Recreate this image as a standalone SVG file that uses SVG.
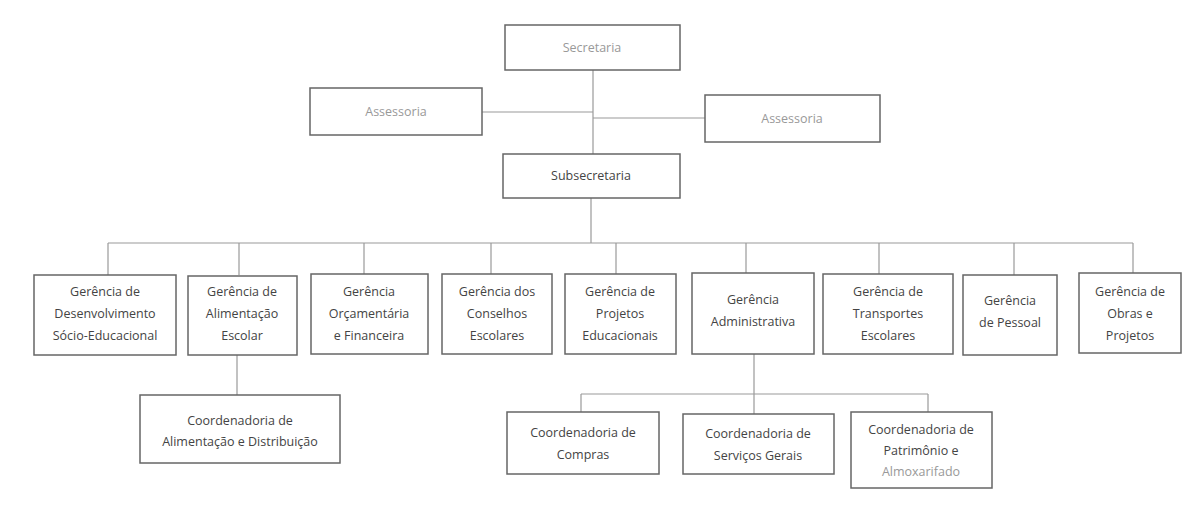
<svg xmlns="http://www.w3.org/2000/svg" width="1190" height="514" viewBox="0 0 1190 514">
<style>
rect{fill:#fff;stroke:#666;stroke-width:1.5}
text{font-family:"Open Sans","Liberation Sans",sans-serif;font-size:12.5px;fill:#444;text-anchor:middle}
.l{fill:#999}
#c line{stroke:#999;stroke-width:1.2}
</style>
<rect width="1190" height="514" style="fill:#fff;stroke:none"/>
<g id="c">
<line x1="593" y1="70" x2="593" y2="154"/>
<line x1="482" y1="112" x2="593" y2="112"/>
<line x1="593" y1="118" x2="705" y2="118"/>
<line x1="591" y1="198" x2="591" y2="243"/>
<line x1="108" y1="243" x2="1133" y2="243"/>
<line x1="108" y1="243" x2="108" y2="275"/>
<line x1="239" y1="243" x2="239" y2="275"/>
<line x1="364" y1="243" x2="364" y2="275"/>
<line x1="491" y1="243" x2="491" y2="275"/>
<line x1="616" y1="243" x2="616" y2="275"/>
<line x1="746" y1="243" x2="746" y2="274"/>
<line x1="879" y1="243" x2="879" y2="275"/>
<line x1="1014" y1="243" x2="1014" y2="275"/>
<line x1="1133" y1="243" x2="1133" y2="274"/>
<line x1="237" y1="355" x2="237" y2="395"/>
<line x1="754" y1="354" x2="754" y2="414"/>
<line x1="581" y1="394" x2="928" y2="394"/>
<line x1="581" y1="394" x2="581" y2="412"/>
<line x1="928" y1="394" x2="928" y2="412"/>
</g>
<g id="secretaria"><rect x="505" y="25" width="175" height="45"/><text class="l" x="592" y="52">Secretaria</text></g>
<g id="assessoria1"><rect x="310" y="88" width="172" height="47"/><text class="l" x="396" y="116">Assessoria</text></g>
<g id="assessoria2"><rect x="705" y="95" width="175" height="47"/><text class="l" x="792" y="123">Assessoria</text></g>
<g id="subsecretaria"><rect x="503" y="154" width="177" height="44"/><text x="591" y="180">Subsecretaria</text></g>
<g id="g1"><rect x="34" y="275" width="142" height="80"/><text x="105" y="296">Gerência de</text><text x="105" y="318">Desenvolvimento</text><text x="105" y="340">Sócio-Educacional</text></g>
<g id="g2"><rect x="188" y="276" width="109" height="79"/><text x="242" y="296">Gerência de</text><text x="242" y="318">Alimentação</text><text x="242" y="340">Escolar</text></g>
<g id="g3"><rect x="311" y="274" width="117" height="80"/><text x="369" y="296">Gerência</text><text x="369" y="318">Orçamentária</text><text x="369" y="340">e Financeira</text></g>
<g id="g4"><rect x="442" y="274" width="110" height="80"/><text x="497" y="296">Gerência dos</text><text x="497" y="318">Conselhos</text><text x="497" y="340">Escolares</text></g>
<g id="g5"><rect x="565" y="274" width="111" height="80"/><text x="620" y="296">Gerência de</text><text x="620" y="318">Projetos</text><text x="620" y="340">Educacionais</text></g>
<g id="g6"><rect x="692" y="273" width="122" height="81"/><text x="753" y="304">Gerência</text><text x="753" y="326">Administrativa</text></g>
<g id="g7"><rect x="823" y="274" width="130" height="80"/><text x="888" y="296">Gerência de</text><text x="888" y="318">Transportes</text><text x="888" y="340">Escolares</text></g>
<g id="g8"><rect x="963" y="275" width="94" height="80"/><text x="1010" y="305">Gerência</text><text x="1010" y="327">de Pessoal</text></g>
<g id="g9"><rect x="1079" y="273" width="102" height="80"/><text x="1130" y="296">Gerência de</text><text x="1130" y="318">Obras e</text><text x="1130" y="340">Projetos</text></g>
<g id="c1"><rect x="140" y="395" width="200" height="68"/><text x="240" y="425">Coordenadoria de</text><text x="240" y="446">Alimentação e Distribuição</text></g>
<g id="c2"><rect x="507" y="412" width="152" height="62"/><text x="583" y="437">Coordenadoria de</text><text x="583" y="459">Compras</text></g>
<g id="c3"><rect x="683" y="414" width="151" height="60"/><text x="758" y="438">Coordenadoria de</text><text x="758" y="460">Serviços Gerais</text></g>
<g id="c4"><rect x="851" y="412" width="141" height="76"/><text x="921" y="434">Coordenadoria de</text><text x="921" y="455">Patrimônio e</text><text class="l" x="921" y="476">Almoxarifado</text></g>
</svg>
